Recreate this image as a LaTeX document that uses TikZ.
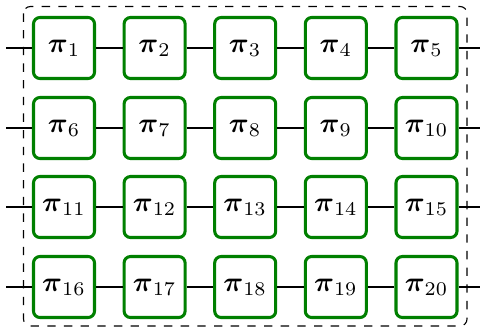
\documentclass[tikz,border=0pt]{standalone}
\usepackage{amsmath}
\begin{document}
\begin{tikzpicture}[x=0.36pt,y=-0.36pt,
  pibox/.style={draw=green!50!black, line width=1.1pt, rounded corners=2.3pt,
    minimum width=61*0.36pt, minimum height=61*0.36pt, inner sep=0pt, fill=white},
  wire/.style={line width=0.5pt, black},
  frame/.style={dashed, line width=0.4pt, rounded corners=2.5pt}]
\useasboundingbox (0,0) rectangle (480,327);
\draw[frame] (23.5,6.5) rectangle (467,326);
\foreach \r/\y in {0/48,1/128,2/207,3/287}{
  \coordinate (L\r) at (6,\y);
  \coordinate (R\r) at (480,\y);
  \foreach \c/\x in {1/64,2/154.6,3/245.2,4/335.8,5/426.5}{
    \pgfmathtruncatemacro{\n}{\r*5+\c}
    \node[pibox] (p\r\c) at (\x,\y) {$\boldsymbol{\pi}_{\n}$};
  }
  \draw[wire] (L\r) -- (p\r1) -- (p\r2) -- (p\r3) -- (p\r4) -- (p\r5) -- (R\r);
}
\end{tikzpicture}
\end{document}
